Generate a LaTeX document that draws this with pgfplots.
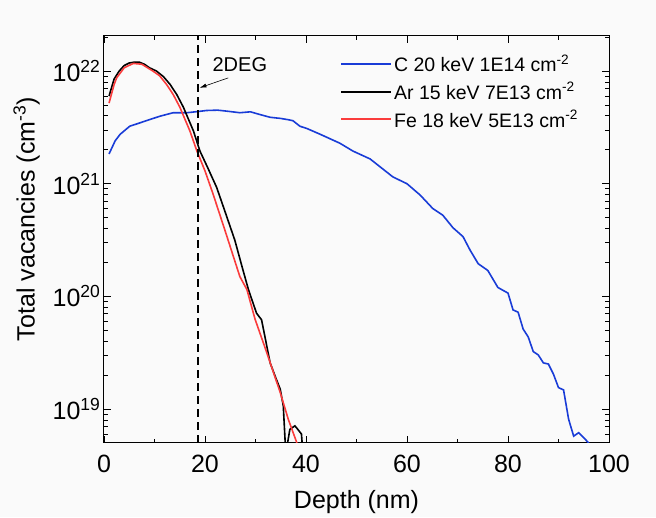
\documentclass[border=0pt]{standalone}
\usepackage{fontspec}
\setmainfont{Liberation Sans}
\usepackage{pgfplots}
\pgfplotsset{compat=1.18}
\usetikzlibrary{calc,arrows.meta,backgrounds}
\definecolor{cblue}{RGB}{25,60,215}
\definecolor{cred}{RGB}{250,60,60}
\begin{document}
\begin{tikzpicture}
\begin{axis}[
  scale only axis, width=505pt, height=407pt,
  ymode=log, xmin=0, xmax=100, ymin=5e18, ymax=2.05e22,
  xtick={0,20,40,60,80,100}, minor x tick num=1,
  ytick={1e19,1e20,1e21,1e22},
  yticklabels={10\textsuperscript{19},10\textsuperscript{20},10\textsuperscript{21},10\textsuperscript{22}},
  minor ytick={6e18,7e18,8e18,9e18,2e19,3e19,4e19,5e19,6e19,7e19,8e19,9e19,2e20,3e20,4e20,5e20,6e20,7e20,8e20,9e20,2e21,3e21,4e21,5e21,6e21,7e21,8e21,9e21,2e22},
  tick align=inside, major tick length=7pt, minor tick length=4pt,
  axis line style={line width=1pt},
  every tick/.style={black, line width=0.9pt},
  tick label style={font=\fontsize{25}{30}\selectfont},
  xticklabel style={yshift=-9pt},
  /pgf/number format/assume math mode=true,
  xlabel={Depth (nm)},
  ylabel={Total vacancies (cm\textsuperscript{-3})},
  label style={font=\fontsize{25}{30}\selectfont},
  xlabel style={at={(axis description cs:0.5,-0.16)}, anchor=base},
  ylabel style={at={(axis description cs:-0.12,0.55)}, anchor=south},
  legend style={draw=none, fill=none, at={(0.462,0.970)}, anchor=north west,
    font=\fontsize{19.5}{23}\selectfont, nodes={inner ysep=4.5pt}},
  legend cell align=left,
  legend image code/.code={\draw[mark repeat=2,mark phase=2,#1] plot coordinates {(0pt,0pt) (25pt,0pt) (50pt,0pt)};},
]
\addplot[cblue, line width=1.6pt] coordinates {
(1.0,1.84e21) (2.2,2.40e21) (3.2,2.75e21) (5.1,3.24e21) (7.1,3.47e21) (9.1,3.72e21)
(11.1,3.98e21) (13.7,4.27e21) (16.4,4.27e21) (18.5,4.37e21) (20.3,4.47e21) (22.5,4.50e21)
(24.5,4.40e21) (26.9,4.27e21) (29,4.35e21) (31,4.10e21) (32.9,3.89e21) (35,3.80e21)
(36.5,3.70e21) (37.4,3.63e21) (38.8,3.24e21) (40.2,3.09e21) (42.8,2.75e21) (46.7,2.29e21)
(49.3,1.95e21) (52.7,1.66e21) (54.7,1.41e21) (57.2,1.15e21) (60.0,1.00e21) (62.6,7.94e20)
(65.1,6.03e20) (67.1,5.25e20) (69.1,4.07e20) (71.1,3.39e20) (72.5,2.57e20) (74.1,1.95e20)
(76.0,1.70e20) (78.0,1.20e20) (80.0,1.07e20) (81.0,7.59e19) (82.0,7.24e19) (83.0,5.13e19)
(84.0,4.37e19) (85.0,3.24e19) (86.0,3.02e19) (87.0,2.57e19) (88.0,2.51e19) (89.0,2.04e19)
(90.0,1.55e19) (91.0,1.48e19) (92.0,8.13e18) (93.0,5.75e18) (94.0,6.17e18) (96.0,5.0e18)
};
\addlegendentry{C 20 keV 1E14 cm\textsuperscript{-2}}
\addplot[black, line width=1.6pt] coordinates {
(1.0,6.0e21) (2.0,8.5e21) (3.0,1.0e22) (4.0,1.12e22) (5.0,1.18e22) (6.0,1.20e22)
(7.0,1.20e22) (8.0,1.15e22) (9.0,1.07e22) (10.4,1.0e22) (11.8,8.9e21) (13.1,7.6e21)
(14.4,6.2e21) (15.7,4.8e21) (17.7,2.95e21) (19.0,1.95e21) (20.5,1.4e21) (22.3,9.3e20)
(24.0,5.6e20) (25.9,3.16e20) (27.3,1.86e20) (28.6,1.15e20) (30.2,7.1e19) (31.2,6.2e19)
(32.9,2.57e19) (34.0,1.9e19) (34.9,1.5e19) (35.5,1.07e19) (36.0,4.0e18) (36.8,6.6e18)
(37.8,7.1e18) (38.5,6.5e18) (39.1,6.0e18) (39.4,4.0e18)
};
\addlegendentry{Ar 15 keV 7E13 cm\textsuperscript{-2}}
\addplot[cred, line width=1.6pt] coordinates {
(1.0,5.2e21) (2.0,7.6e21) (2.5,8.7e21) (4.0,1.07e22) (5.8,1.17e22) (7.5,1.15e22)
(9.7,1.0e22) (11.0,9.1e21) (12.4,7.6e21) (13.7,6.2e21) (15.0,4.8e21) (17.0,2.95e21)
(18.4,1.95e21) (20.0,1.3e21) (21.6,8.1e20) (24.0,3.8e20) (26.9,1.5e20) (28.3,1.15e20)
(29.9,6.3e19) (32.2,3.2e19) (34.9,1.4e19) (36.5,8.1e18) (38.2,5.0e18) (38.6,4.0e18)
};
\addlegendentry{Fe 18 keV 5E13 cm\textsuperscript{-2}}
\addplot[black, line width=1.5pt, dash pattern=on 8pt off 5pt, forget plot] coordinates {(18.6,5e18) (18.6,2.05e22)};
\node[font=\fontsize{20}{24}\selectfont] at (axis cs:26.9,1.14e22) {2DEG};
\draw[line width=0.6pt, -{Latex[length=7pt,width=4pt]}] (axis cs:24.6,8.7e21) -- (axis cs:18.9,7.1e21);
\end{axis}
\pgfresetboundingbox
\path[use as bounding box] ($(current axis.south west)+(-104pt,-74pt)$) rectangle ($(current axis.north east)+(47pt,36pt)$);
\begin{scope}[on background layer]
\fill[black!2] ($(current axis.south west)+(-104pt,-74pt)$) rectangle ($(current axis.north east)+(47pt,36pt)$);
\end{scope}
\end{tikzpicture}
\end{document}
